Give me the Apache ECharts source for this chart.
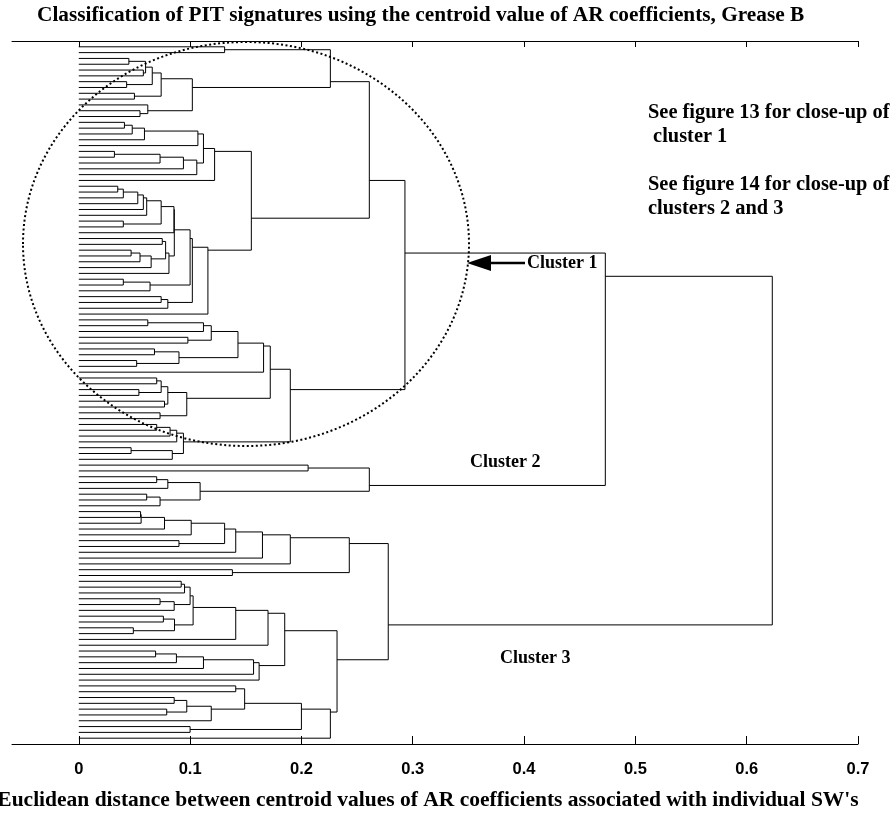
<!DOCTYPE html>
<html>
<head>
<meta charset="utf-8">
<script src="https://cdn.jsdelivr.net/npm/echarts@6/dist/echarts.min.js"></script>
<style>
  html, body { margin: 0; padding: 0; background: #fff; }
  #chart { width: 895px; height: 816px; }
</style>
</head>
<body>
<div id="chart"></div>
<script>
// Dendrogram notation: a merge is [height, upperChild, lowerChild]; a leaf is 0.
// Leaves are numbered top to bottom in the order they are met.

// ---- Cluster 1, upper branch (leaves 1-47)
const g3_8   = [0.066, [0.060, [0.045, 0, 0], [0.058, 0, 0]], [0.043, 0, 0]];
const g3_13  = [0.102, [0.074, g3_8, [0.050, 0, 0]], [0.062, 0, [0.055, 0, 0]]];
const c1Top  = [0.226, [0.131, 0, 0], g3_13];
const g14_24 = [0.122,
  [0.112,
    [0.107, [0.059, [0.048, [0.041, 0, 0], 0], 0], 0],
    [0.106, [0.094, [0.073, [0.032, 0, 0], 0], 0], 0]],
  0];
const g25_33 = [0.0855, [0.074, [0.061, [0.058, [0.053, [0.040, [0.035, 0, 0], 0], 0], 0], 0], [0.040, 0, 0]], 0];
const g34_40 = [0.081, [0.078, [0.075, 0, 0], [0.065, [0.055, [0.047, 0, 0], 0], 0]], 0];
const g41_43 = [0.064, [0.040, 0, 0], 0];
const g44_46 = [0.080, [0.074, 0, 0], 0];
const g25_47 = [0.116, [0.102, [0.100, [0.0858, g25_33, g34_40], g41_43], g44_46], 0];
const c1a    = [0.261, c1Top, [0.155, g14_24, g25_47]];

// ---- Cluster 1, lower branch (leaves 48-72)
const g48_56 = [0.143, [0.119, [0.112, [0.062, 0, 0], 0], [0.098, 0, 0]], [0.090, [0.068, 0, 0], [0.052, 0, 0]]];
const g58_65 = [0.097, [0.080, [0.074, [0.070, 0, 0], [0.054, 0, 0]], [0.077, 0, 0]], [0.073, 0, 0]];
const g66_72 = [0.094, [0.088, [0.082, [0.070, 0, 0], 0], 0], [0.084, [0.047, 0, 0], 0]];
const c1b    = [0.190, [0.172, [0.166, g48_56, 0], g58_65], g66_72];
const cluster1 = [0.293, c1a, c1b];

// ---- Cluster 2 (leaves 73-80)
const cluster2 = [0.261, [0.206, 0, 0], [0.109, [0.080, [0.070, 0, 0], 0], [0.073, [0.061, 0, 0], 0]]];

// ---- Cluster 3 (leaves 81-120)
const g81_88 = [0.141, [0.131, [0.101, [0.077, [0.056, [0.0555, 0, 0], 0], 0], 0], [0.090, 0, 0]], 0];
const c3a    = [0.243, [0.190, [0.165, g81_88, 0], 0], [0.138, 0, 0]];
const g93_103  = [0.141, [0.1027, [0.100, [0.095, [0.092, 0, 0], 0], [0.0857, [0.073, 0, 0], 0]],
                                  [0.086, [0.076, 0, 0], [0.049, 0, 0]]], 0];
const g105_110 = [0.162, [0.157, [0.112, [0.0877, [0.069, 0, 0], 0], 0], 0], 0];
const g111_120 = [0.226, [0.200, [0.149, [0.141, 0, 0], [0.119, [0.097, [0.0857, 0, 0], [0.079, 0, 0]], 0]],
                                  [0.100, 0, 0]], 0];
const c3b      = [0.232, [0.185, [0.170, g93_103, 0], g105_110], g111_120];
const cluster3 = [0.278, c3a, c3b];

const root = [0.623, [0.473, cluster1, cluster2], cluster3];

// Axis ticks
const tickValues = [0, 0.1, 0.2, 0.3, 0.4, 0.5, 0.6, 0.7];
const tickLabels = ['0', '0.1', '0.2', '0.3', '0.4', '0.5', '0.6', '0.7'];

// Texts
const titleText = 'Classification of PIT signatures using the centroid value of AR coefficients, Grease B';
const xNameText = "Euclidean distance between centroid values of AR coefficients associated with individual SW's";

// ---- Layout: each merge sits at the mean position of the leaves beneath it
const links = [];
let leafCount = 0;
function layout(node) {
  if (node === 0) {
    leafCount += 1;
    return { h: 0, y: leafCount, n: 1, sum: leafCount };
  }
  const a = layout(node[1]);
  const b = layout(node[2]);
  links.push([a.h, a.y, node[0], b.y, b.h]);
  const n = a.n + b.n, sum = a.sum + b.sum;
  return { h: node[0], y: sum / n, n, sum };
}
layout(root);
const nLeaves = leafCount;

const serif = '"Liberation Serif", "Times New Roman", serif';
const sans = '"Liberation Sans", Arial, sans-serif';

const chart = echarts.init(document.getElementById('chart'), null, { renderer: 'canvas' });
chart.setOption({
  animation: false,
  backgroundColor: '#fff',
  grid: { left: 12, right: 37, top: 41, bottom: 72, containLabel: false },
  xAxis: [
    {
      type: 'value', min: -0.06, max: 0.7, position: 'bottom',
      axisLine: { show: true, onZero: false, lineStyle: { color: '#000', width: 1 } },
      axisTick: { show: true, inside: true, length: 8, customValues: tickValues, lineStyle: { color: '#000', width: 1 } },
      axisLabel: {
        show: true, customValues: tickValues, margin: 17,
        formatter: v => tickLabels[tickValues.findIndex(t => Math.abs(t - v) < 1e-9)] ?? '',
        color: '#000', fontFamily: sans, fontWeight: 'bold', fontSize: 16.5
      },
      splitLine: { show: false }
    },
    {
      type: 'value', min: -0.06, max: 0.7, position: 'top',
      axisLine: { show: true, onZero: false, lineStyle: { color: '#000', width: 1 } },
      axisTick: { show: true, inside: true, length: 6, customValues: tickValues, lineStyle: { color: '#000', width: 1 } },
      axisLabel: { show: false },
      splitLine: { show: false }
    }
  ],
  yAxis: {
    type: 'value', min: 0, max: nLeaves + 1, inverse: true, show: false,
    splitLine: { show: false }
  },
  series: [{
    type: 'custom',
    xAxisIndex: 0,
    silent: true,
    clip: false,
    encode: { x: [0, 2, 4], y: [1, 3] },
    data: links,
    renderItem: (params, api) => {
      const p0 = api.coord([api.value(0), api.value(1)]);
      const p1 = api.coord([api.value(2), api.value(1)]);
      const p2 = api.coord([api.value(2), api.value(3)]);
      const p3 = api.coord([api.value(4), api.value(3)]);
      return {
        type: 'polyline',
        shape: { points: [p0, p1, p2, p3] },
        style: { stroke: '#000', lineWidth: 1, fill: null }
      };
    }
  }],
  graphic: [
    { type: 'text', x: 37, y: 15, style: { text: titleText, font: 'bold 21.3px ' + serif, fill: '#000', textVerticalAlign: 'middle' } },
    { type: 'text', x: 428, y: 800, style: { text: xNameText, font: 'bold 21.5px ' + serif, fill: '#000', textAlign: 'center', textVerticalAlign: 'middle' } },
    { type: 'text', x: 648, y: 113, style: { text: 'See figure 13 for close-up of', font: 'bold 20.4px ' + serif, fill: '#000', textVerticalAlign: 'middle' } },
    { type: 'text', x: 648, y: 137, style: { text: ' cluster 1', font: 'bold 20.4px ' + serif, fill: '#000', textVerticalAlign: 'middle' } },
    { type: 'text', x: 648, y: 185, style: { text: 'See figure 14 for close-up of', font: 'bold 20.4px ' + serif, fill: '#000', textVerticalAlign: 'middle' } },
    { type: 'text', x: 648, y: 209, style: { text: 'clusters 2 and 3', font: 'bold 20.4px ' + serif, fill: '#000', textVerticalAlign: 'middle' } },
    { type: 'text', x: 527, y: 263, style: { text: 'Cluster 1', font: 'bold 18px ' + serif, fill: '#000', textVerticalAlign: 'middle' } },
    { type: 'text', x: 470, y: 462, style: { text: 'Cluster 2', font: 'bold 18px ' + serif, fill: '#000', textVerticalAlign: 'middle' } },
    { type: 'text', x: 500, y: 658, style: { text: 'Cluster 3', font: 'bold 18px ' + serif, fill: '#000', textVerticalAlign: 'middle' } },
    { type: 'line', shape: { x1: 488, y1: 263, x2: 525, y2: 263 }, style: { stroke: '#000', lineWidth: 2.5 } },
    { type: 'polygon', shape: { points: [[467, 263], [491, 255], [491, 271]] }, style: { fill: '#000' } },
    { type: 'ellipse', shape: { cx: 246, cy: 244, rx: 223, ry: 202 },
      style: { fill: null, stroke: '#000', lineWidth: 2, lineDash: [2, 2.5] }, z: 10 }
  ]
});
</script>
</body>
</html>
